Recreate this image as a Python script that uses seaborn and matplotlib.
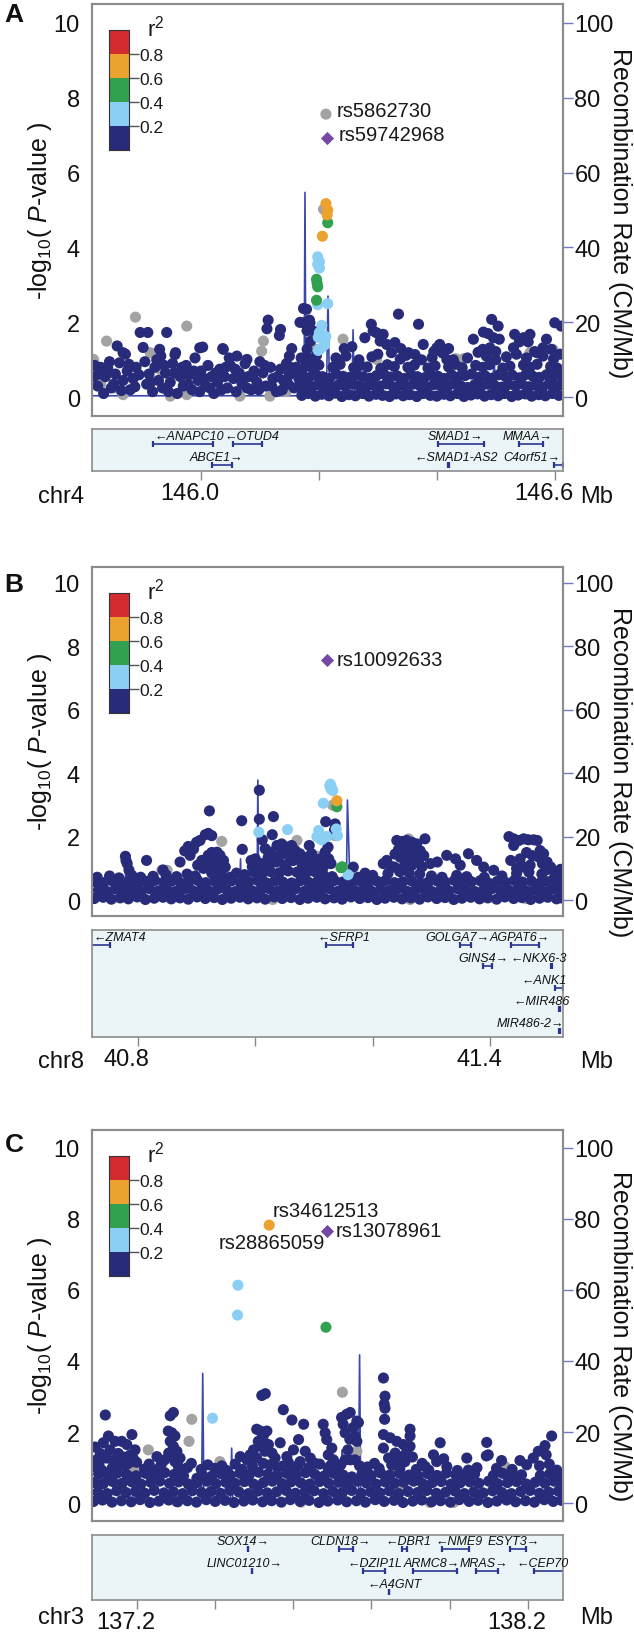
import numpy as np
import pandas as pd
import matplotlib
matplotlib.use("Agg")
import matplotlib.pyplot as plt
from matplotlib.colors import ListedColormap
from matplotlib.transforms import ScaledTranslation
import seaborn as sns

# --- style ---
sns.set_style("white")
plt.rcParams["font.family"] = ["Liberation Sans", "DejaVu Sans"]
plt.rcParams["mathtext.fontset"] = "custom"
plt.rcParams["mathtext.rm"] = "Liberation Sans"
plt.rcParams["mathtext.it"] = "Liberation Sans:italic"
plt.rcParams["mathtext.bf"] = "Liberation Sans:bold"

# --- r2 colour classes ---
ld_colors = {"gray": "#a3a3a3", "0.0-0.2": "#272b79", "0.2-0.4": "#8ccff5",
             "0.4-0.6": "#31a150", "0.6-0.8": "#eca22f", "0.8-1.0": "#d42b30"}
r2_bar_colors = ["#272b79", "#8ccff5", "#31a150", "#eca22f", "#d42b30"]
r2_bar_codes = [4, 3, 2, 1, 0]
r2_bar_labels = ["0.8", "0.6", "0.4", "0.2"]

# =====================  Panel A : chr4  =====================
A_chrom = "chr4"
A_ticks = [146.0, 146.2, 146.4, 146.6]
A_ticklabels = ["146.0", "", "", "146.6"]
A_gray = [(146.212, 7.56), (146.208, 5.02), (145.889, 2.14), (145.840, 1.50), (145.976, 1.90), (146.106, 1.50),
          (146.103, 1.23), (146.241, 1.55), (146.445, 1.03), (146.432, 1.03), (145.818, 1.01), (145.854, .25),
          (145.868, .07), (145.948, .03), (145.976, .07), (146.066, .03), (146.117, .03), (146.145, .16),
          (146.196, .92), (146.196, 1.28), (146.298, 1.01), (146.417, 1.28), (146.558, 1.19), (146.597, 1.28),
          (145.931, .74), (145.914, 1.19), (145.830, .35), (145.860, .40), (146.230, .90)]
A_navy = [
    # left, looser part
    (145.820, .85), (145.830, .80), (145.842, .78), (145.838, .55), (145.825, .30), (145.835, .10), (145.848, .25),
    (145.855, .62), (145.858, 1.37), (145.862, .92), (145.868, .45), (145.872, 1.15), (145.875, .70), (145.880, .20),
    (145.885, .50), (145.890, .80), (145.897, 1.73), (145.902, 1.33), (145.905, .95), (145.908, .35), (145.910, 1.73),
    (145.912, .62), (145.918, .15), (145.922, .80), (145.928, .45), (145.932, 1.10), (145.935, .25), (145.942, 1.73),
    (145.940, .65), (145.948, .40), (145.952, .90), (145.957, 1.19), (145.960, .10), (145.965, .55), (145.970, .30),
    (145.975, .85), (145.980, .60), (145.985, .20), (145.990, 1.05), (145.995, .45), (146.000, .70), (146.003, 1.34),
    (146.008, .30), (146.012, .85), (146.018, .55), (146.022, .10), (146.028, .40), (146.032, .75), (146.037, 1.30),
    (146.040, .55), (146.045, .25), (146.050, .85), (146.055, .50), (146.060, .15), (146.065, .65), (146.070, .35),
    (146.075, .90), (146.080, .55), (146.085, .20), (146.090, .70), (146.095, .40), (146.100, .95), (146.105, .65),
    (146.110, .30), (146.114, 2.06), (146.112, 1.83), (146.118, .80), (146.122, .50), (146.128, .15), (146.133, 1.65),
    (146.135, .75), (146.140, .45), (146.145, .90), (146.150, .60), (146.154, 1.30), (146.158, .25), (146.162, .80),
    (146.166, .50), (146.170, 1.05), (145.818, .55), (145.828, .62), (145.845, .95), (145.852, .35), (145.865, .18),
    (145.878, .88), (145.888, .28), (145.895, .60), (145.915, .40), (145.925, 1.00), (145.938, .85), (145.945, .15),
    (145.955, .65), (145.968, .80), (145.978, .35), (145.988, .70), (145.998, .15), (146.005, .50), (146.015, .25),
    (146.025, .65), (146.035, .20), (146.042, .80), (146.048, 1.05), (146.058, .75), (146.068, .45), (146.078, .25),
    (146.088, .55), (146.098, .20), (146.108, .85), (146.120, .30), (146.130, .55), (146.138, .20), (146.148, .35),
    (146.156, .70), (146.168, .30), (145.868, 1.19), (145.930, 1.28), (145.956, 1.14), (145.998, 1.32),
    (146.038, 1.28), (146.061, 1.10), (146.078, 1.01), (146.135, 1.81), (146.150, 1.10), (146.152, .80),
    # right, dense part
    (146.171, .05), (146.182, .10), (146.194, .03), (146.205, .08), (146.217, .04), (146.228, .11), (146.239, .02),
    (146.251, .07), (146.262, .04), (146.274, .10), (146.285, .03), (146.297, .08), (146.308, .05), (146.320, .02),
    (146.331, .09), (146.343, .04), (146.354, .07), (146.366, .02), (146.377, .10), (146.389, .05), (146.400, .03),
    (146.412, .08), (146.423, .04), (146.435, .10), (146.446, .02), (146.458, .06), (146.469, .09), (146.481, .03),
    (146.492, .07), (146.504, .04), (146.515, .10), (146.527, .02), (146.538, .06), (146.550, .09), (146.561, .03),
    (146.573, .07), (146.584, .04), (146.596, .10), (146.607, .05),
    (146.176, .32), (146.188, .28), (146.199, .35), (146.211, .30), (146.222, .26), (146.234, .34), (146.245, .29),
    (146.257, .36), (146.268, .31), (146.280, .27), (146.291, .33), (146.303, .30), (146.314, .36), (146.326, .28),
    (146.337, .32), (146.349, .26), (146.360, .35), (146.372, .30), (146.383, .27), (146.395, .34), (146.406, .31),
    (146.418, .28), (146.429, .36), (146.441, .30), (146.452, .26), (146.464, .33), (146.475, .29), (146.487, .35),
    (146.498, .31), (146.510, .27), (146.521, .34), (146.533, .30), (146.544, .36), (146.556, .28), (146.567, .32),
    (146.579, .27), (146.590, .35), (146.602, .30), (146.611, .33),
    (146.172, .58), (146.183, .52), (146.195, .60), (146.206, .55), (146.218, .50), (146.229, .62), (146.241, .56),
    (146.252, .53), (146.264, .60), (146.275, .55), (146.287, .51), (146.298, .58), (146.310, .62), (146.321, .54),
    (146.333, .57), (146.344, .50), (146.356, .61), (146.367, .55), (146.379, .52), (146.390, .59), (146.402, .56),
    (146.413, .50), (146.425, .60), (146.436, .54), (146.448, .58), (146.459, .62), (146.471, .53), (146.482, .57),
    (146.494, .51), (146.505, .60), (146.517, .55), (146.528, .59), (146.540, .52), (146.551, .61), (146.563, .56),
    (146.574, .53), (146.586, .60), (146.597, .55), (146.608, .58),
    (146.177, .82), (146.189, .78), (146.200, .86), (146.224, .80), (146.236, .88), (146.259, .79), (146.270, .85),
    (146.282, .81), (146.305, .77), (146.316, .87), (146.328, .82), (146.351, .80), (146.362, .86), (146.385, .78),
    (146.397, .84), (146.420, .81), (146.431, .88), (146.443, .79), (146.466, .85), (146.478, .80), (146.489, .87),
    (146.512, .78), (146.524, .83), (146.547, .86), (146.558, .80), (146.570, .88), (146.593, .82), (146.604, .78),
    (146.186, 1.02), (146.196, 1.12), (146.229, 1.05), (146.246, 1.10), (146.268, 1.00), (146.290, 1.08),
    (146.300, 1.15), (146.338, 1.02), (146.348, 1.12), (146.374, 1.00), (146.392, 1.06), (146.410, 1.18),
    (146.428, 1.00), (146.452, 1.05), (146.470, 1.20), (146.484, 1.10), (146.500, 1.00), (146.518, 1.08),
    (146.535, 1.15), (146.552, 1.05), (146.566, 1.22), (146.580, 1.10), (146.598, 1.02), (146.609, 1.15),
    # raised dots
    (146.174, 2.37), (146.179, 2.35), (146.174, 1.99), (146.185, 1.99), (146.182, 1.81), (146.190, 1.77),
    (146.186, 1.50), (146.180, 1.28), (146.178, 1.06), (146.168, 2.00), (146.184, 2.06), (146.180, 1.78),
    (146.243, 1.30), (146.256, 1.35), (146.278, 1.59), (146.289, 1.95), (146.292, 1.77), (146.298, 1.72),
    (146.309, 1.68), (146.304, 1.50), (146.315, 1.41), (146.329, 1.46), (146.323, 1.19), (146.335, 2.22),
    (146.369, 1.95), (146.377, 1.41), (146.363, 1.14), (146.400, 1.32), (146.405, 1.41), (146.412, 1.26),
    (146.417, 1.01), (146.462, 1.55), (146.479, 1.74), (146.487, 1.70), (146.496, 1.59), (146.493, 2.08),
    (146.504, 1.90), (146.506, 1.55), (146.478, 1.28), (146.490, 1.32), (146.500, 1.22), (146.532, 1.68),
    (146.547, 1.59), (146.558, 1.68), (146.555, 1.48), (146.540, 1.48), (146.530, 1.32), (146.586, 1.55),
    (146.600, 1.99), (146.611, 1.90), (146.594, 1.28), (146.580, 1.32), (146.570, 1.19), (146.420, 1.30),
    (146.395, 1.22), (146.352, 1.19), (146.339, 1.30)]
A_lblue = [(146.198, 3.75), (146.201, 3.62), (146.198, 3.55), (146.201, 3.45), (146.215, 2.50), (146.198, 2.47),
           (146.205, 1.92), (146.201, 1.73), (146.207, 1.65), (146.199, 1.60), (146.212, 1.62), (146.203, 1.30),
           (146.199, 1.25), (146.210, 1.40)]
A_green = [(146.215, 4.66), (146.196, 3.15), (146.198, 2.95), (146.196, 2.59), (146.197, 3.05)]
A_orange = [(146.212, 5.17), (146.215, 5.00), (146.214, 4.87), (146.206, 4.30)]
A_lead = [(146.214, 6.93)]
A_named = [("rs5862730", 146.212, 7.56), ("rs59742968", 146.214, 6.93)]
A_recomb = [(145.816, 0.4), (146.170, 0.4), (146.175, 3.0), (146.1765, 54.7), (146.178, 2.0), (146.213, 2.0),
            (146.2155, 27.0), (146.218, 1.5), (146.2565, 1.5), (146.258, 18.0), (146.260, 1.5), (146.495, 1.5),
            (146.497, 13.7), (146.499, 1.5), (146.614, 1.0)]
A_genes = [("ANAPC10", 145.918, 146.021, 0, "-", 145.980), ("OTUD4", 146.054, 146.103, 0, "-", 146.087),
           ("ABCE1", 146.018, 146.053, 1, "+", 146.027), ("SMAD1", 146.402, 146.480, 0, "+", 146.432),
           ("SMAD1-AS2", 146.419, 146.421, 1, "-", 146.433), ("MMAA", 146.539, 146.580, 0, "+", 146.554),
           ("C4orf51", 146.598, 146.614, 1, "+", 146.562)]

# =====================  Panel B : chr8  =====================
B_chrom = "chr8"
B_ticks = [40.8, 41.0, 41.2, 41.4]
B_ticklabels = ["40.8", "", "", "41.4"]
B_gray = [(40.841, .94), (40.850, .94), (40.943, 1.85), (41.071, 1.88), (41.105, 1.38), (41.261, 1.93),
          (41.132, 2.99), (41.136, 2.03), (41.196, .63), (41.460, .05), (41.264, .02), (41.050, .15), (40.980, .80),
          (41.345, .70), (41.030, .02)]
B_navy = [
    (40.726, .05), (40.741, .09), (40.755, .03), (40.770, .07), (40.784, .04), (40.799, .10), (40.813, .02),
    (40.828, .06), (40.843, .09), (40.857, .04), (40.872, .07), (40.886, .03), (40.901, .10), (40.915, .05),
    (40.930, .08), (40.944, .02), (40.959, .06), (40.974, .09), (40.988, .04), (41.003, .07), (41.017, .03),
    (41.032, .10), (41.046, .05), (41.061, .08), (41.076, .02), (41.090, .06), (41.105, .09), (41.119, .04),
    (41.134, .07), (41.148, .03), (41.163, .10), (41.178, .05), (41.192, .08), (41.207, .02), (41.221, .06),
    (41.236, .09), (41.250, .04), (41.265, .07), (41.280, .03), (41.294, .10), (41.309, .05), (41.323, .08),
    (41.338, .02), (41.352, .06), (41.367, .09), (41.382, .04), (41.396, .07), (41.411, .03), (41.425, .10),
    (41.440, .05), (41.454, .08), (41.469, .02), (41.484, .06), (41.498, .09), (41.513, .04), (41.521, .07),
    (40.733, .31), (40.748, .27), (40.762, .35), (40.777, .30), (40.791, .33), (40.806, .28), (40.820, .36),
    (40.835, .29), (40.850, .32), (40.864, .27), (40.879, .35), (40.893, .30), (40.908, .33), (40.922, .28),
    (40.937, .36), (40.952, .31), (40.966, .27), (40.981, .34), (40.995, .29), (41.010, .32), (41.024, .36),
    (41.039, .28), (41.054, .31), (41.068, .35), (41.083, .27), (41.097, .33), (41.112, .30), (41.126, .36),
    (41.141, .28), (41.156, .32), (41.170, .29), (41.185, .35), (41.199, .27), (41.214, .33), (41.228, .30),
    (41.243, .36), (41.258, .28), (41.272, .31), (41.287, .34), (41.301, .27), (41.316, .32), (41.330, .29),
    (41.345, .35), (41.360, .30), (41.374, .27), (41.389, .33), (41.403, .36), (41.418, .28), (41.432, .31),
    (41.447, .34), (41.462, .29), (41.476, .32), (41.491, .27), (41.505, .35), (41.518, .30),
    (40.727, .58), (40.742, .55), (40.756, .61), (40.771, .56), (40.785, .60), (40.800, .54), (40.814, .59),
    (40.829, .62), (40.844, .56), (40.858, .60), (40.873, .54), (40.887, .58), (40.902, .62), (40.916, .55),
    (40.931, .59), (40.945, .56), (40.960, .61), (40.975, .54), (40.989, .58), (41.004, .62), (41.018, .55),
    (41.033, .60), (41.047, .57), (41.062, .54), (41.077, .61), (41.091, .56), (41.106, .59), (41.120, .55),
    (41.135, .62), (41.149, .57), (41.164, .54), (41.179, .60), (41.193, .56), (41.208, .59), (41.222, .62),
    (41.237, .55), (41.251, .58), (41.266, .61), (41.281, .54), (41.295, .57), (41.310, .60), (41.324, .56),
    (41.339, .62), (41.353, .55), (41.368, .58), (41.383, .61), (41.397, .54), (41.412, .59), (41.426, .56),
    (41.441, .62), (41.455, .57), (41.470, .60), (41.485, .54), (41.499, .58), (41.514, .61), (41.521, .56),
    (40.731, .72), (40.752, .76), (40.768, .70), (40.790, .78), (40.805, .72), (40.826, .75), (40.848, .80),
    (40.866, .74), (40.884, .82), (40.898, .76), (40.926, .85), (40.940, .78), (40.957, .72), (40.968, .85),
    (40.982, .80), (40.998, .88), (41.012, .84), (41.026, .90), (41.041, .86), (41.056, .92), (41.071, .88),
    (41.086, .84), (41.101, .90), (41.116, .80), (41.131, .74), (41.175, .72), (41.200, .78), (41.226, .84),
    (41.246, .90), (41.262, .86), (41.280, .82), (41.300, .76), (41.318, .72), (41.343, .78), (41.360, .74),
    (41.390, .72), (41.420, .76), (41.445, .84), (41.466, .88), (41.488, .82), (41.510, .76),
    (40.995, 1.05), (41.010, 1.15), (41.020, 1.05), (41.035, 1.20), (41.050, 1.10), (41.065, 1.25), (41.080, 1.05),
    (41.095, 1.12), (41.040, 1.40), (41.058, 1.45), (41.000, 1.30), (41.088, 1.35), (41.110, 1.05),
    (40.779, 1.38), (40.782, 1.15), (40.785, .95), (40.780, 1.25), (40.815, 1.25), (40.843, .95), (40.872, 1.20),
    (40.889, 1.41), (40.886, 1.69), (40.900, 1.82), (40.906, 1.88), (40.915, 2.06), (40.920, 2.10), (40.926, 2.03),
    (40.909, 1.25), (40.895, 1.61), (40.880, 1.55), (40.922, 2.81), (40.920, 1.41), (40.928, 1.30), (40.935, 1.51),
    (40.940, 1.41), (40.946, 1.25), (40.949, 1.04), (40.943, .94), (40.923, 1.15), (40.931, 1.04), (40.937, 1.20),
    (40.926, 1.50), (40.912, 1.00), (40.902, 1.10), (40.977, 2.50), (40.978, 1.60), (40.993, 1.25), (41.007, 3.46),
    (41.007, 2.55), (41.012, 1.90), (41.031, 2.63), (41.029, 2.06), (41.017, 1.62), (41.025, 1.51), (41.037, 1.72),
    (41.045, 1.77), (41.054, 1.67), (41.062, 1.72), (41.068, 1.56), (41.076, 1.46), (41.048, 1.46), (41.040, 1.35),
    (41.028, 1.20), (41.060, 1.25), (41.071, 1.30), (41.022, 1.35), (41.092, 1.72), (41.082, 1.30), (41.096, 1.46),
    (41.111, 1.30), (41.116, 1.04), (41.102, 1.15), (41.120, 2.47), (41.136, 2.40), (41.135, 2.21), (41.124, 1.67),
    (41.125, 1.30), (41.129, 1.15), (41.119, 1.51), (41.167, 1.04), (41.187, .85), (41.224, 1.25), (41.237, 1.04),
    (41.218, 1.15), (41.241, 1.88), (41.250, 1.85), (41.258, 1.88), (41.267, 1.82), (41.275, 1.77), (41.289, 1.93),
    (41.244, 1.60), (41.255, 1.55), (41.264, 1.60), (41.272, 1.50), (41.281, 1.55), (41.247, 1.35), (41.261, 1.30),
    (41.278, 1.25), (41.287, 1.40), (41.238, 1.45), (41.233, 1.05), (41.253, 1.05), (41.267, 1.10), (41.284, 1.05),
    (41.298, 1.15), (41.326, 1.41), (41.341, 1.30), (41.363, 1.46), (41.377, 1.25), (41.310, 1.20), (41.349, 1.10),
    (41.389, 1.04), (41.406, .94), (41.432, 2.00), (41.440, 1.93), (41.449, 1.88), (41.457, 1.93), (41.465, 1.90),
    (41.474, 1.90), (41.480, 1.88), (41.440, 1.72), (41.451, 1.30), (41.485, 1.56), (41.491, 1.46), (41.497, 1.20),
    (41.503, 1.04), (41.483, 1.35), (41.489, 1.15), (41.495, .95), (41.457, 1.04), (41.468, 1.10), (41.445, 1.00),
    (41.511, .90), (41.515, .85), (41.520, .97), (41.462, 1.50), (41.472, 1.40), (41.435, 1.25)]
B_lblue = [(41.128, 3.65), (41.130, 3.54), (41.132, 3.45), (41.127, 3.60), (41.129, 3.50), (41.116, 3.05),
           (41.006, 2.14), (41.055, 2.22), (41.108, 2.19), (41.110, 1.95), (41.115, 1.95), (41.122, 2.00),
           (41.105, 2.00), (41.138, 2.24), (41.140, 2.03), (41.158, .80), (41.113, 1.90), (41.118, 1.98)]
B_green = [(41.139, 2.94), (41.146, 1.02), (41.148, 1.05)]
B_orange = [(41.139, 3.13)]
B_lead = [(41.123, 7.57)]
B_named = [("rs10092633", 41.123, 7.57)]
B_recomb = [(40.7228, 0.5), (40.778, 0.5), (40.780, 13.8), (40.782, 0.5), (40.973, 0.5), (40.975, 13.0),
            (40.977, 0.5), (41.003, 0.5), (41.0045, 37.8), (41.006, 0.5), (41.155, 0.5), (41.157, 31.5),
            (41.162, 0.5), (41.524, 0.5)]
B_genes = [("ZMAT4", 40.700, 40.753, 0, "-", 40.770), ("SFRP1", 41.121, 41.166, 0, "-", 41.151),
           ("GOLGA7", 41.349, 41.368, 0, "+", 41.345), ("AGPAT6", 41.436, 41.483, 0, "+", 41.450),
           ("GINS4", 41.387, 41.403, 1, "+", 41.388), ("NKX6-3", 41.503, 41.505, 1, "-", 41.483),
           ("ANK1", 41.511, 41.524, 2, "-", 41.492), ("MIR486", 41.517, 41.519, 3, "-", 41.488),
           ("MIR486-2", 41.517, 41.519, 4, "+", 41.469)]

# =====================  Panel C : chr3  =====================
C_chrom = "chr3"
C_ticks = [137.2, 137.4, 137.6, 137.8, 138.0, 138.2]
C_ticklabels = ["137.2", "", "", "", "", "138.2"]
C_gray = [(137.341, 2.36), (137.334, 1.74), (137.230, 1.50), (137.413, 1.17), (137.726, 3.12), (137.763, 1.46),
          (138.142, 1.03), (137.192, .90), (137.470, .60), (137.950, .02), (137.860, .30), (137.100, .55),
          (137.300, .05), (137.620, .03), (138.010, .02), (137.200, 1.12), (137.883, .40), (137.925, .20)]
C_navy = [
    (137.090, .05), (137.113, .09), (137.137, .03), (137.161, .07), (137.186, .04), (137.209, .10), (137.234, .02),
    (137.257, .06), (137.282, .09), (137.305, .04), (137.330, .07), (137.353, .03), (137.378, .10), (137.401, .05),
    (137.426, .08), (137.449, .02), (137.474, .06), (137.497, .09), (137.522, .04), (137.545, .07), (137.570, .03),
    (137.593, .10), (137.618, .05), (137.641, .08), (137.666, .02), (137.689, .06), (137.714, .09), (137.737, .04),
    (137.762, .07), (137.785, .03), (137.810, .10), (137.833, .05), (137.858, .08), (137.881, .02), (137.906, .06),
    (137.929, .09), (137.954, .04), (137.977, .07), (138.002, .03), (138.025, .10), (138.050, .05), (138.073, .08),
    (138.098, .02), (138.121, .06), (138.146, .09), (138.169, .04), (138.194, .07), (138.217, .03), (138.242, .10),
    (138.265, .05), (138.286, .08),
    (137.101, .31), (137.125, .27), (137.149, .35), (137.173, .30), (137.197, .33), (137.221, .28), (137.245, .36),
    (137.270, .29), (137.294, .32), (137.318, .27), (137.342, .35), (137.366, .30), (137.390, .33), (137.414, .28),
    (137.438, .36), (137.462, .31), (137.486, .27), (137.510, .34), (137.534, .29), (137.558, .32), (137.582, .36),
    (137.606, .28), (137.630, .31), (137.654, .35), (137.678, .27), (137.702, .33), (137.726, .30), (137.750, .36),
    (137.774, .28), (137.798, .32), (137.822, .29), (137.846, .35), (137.870, .27), (137.894, .33), (137.918, .30),
    (137.942, .36), (137.966, .28), (137.990, .31), (138.014, .34), (138.038, .27), (138.062, .32), (138.086, .29),
    (138.110, .35), (138.134, .30), (138.158, .27), (138.182, .33), (138.206, .36), (138.230, .28), (138.254, .31),
    (138.278, .34),
    (137.092, .58), (137.115, .55), (137.139, .61), (137.163, .56), (137.188, .60), (137.211, .54), (137.236, .59),
    (137.259, .62), (137.284, .56), (137.307, .60), (137.332, .54), (137.355, .58), (137.380, .62), (137.403, .55),
    (137.428, .59), (137.451, .56), (137.476, .61), (137.499, .54), (137.524, .58), (137.547, .62), (137.572, .55),
    (137.595, .60), (137.620, .57), (137.643, .54), (137.668, .61), (137.691, .56), (137.716, .59), (137.739, .55),
    (137.764, .62), (137.787, .57), (137.812, .54), (137.835, .60), (137.860, .56), (137.883, .59), (137.908, .62),
    (137.931, .55), (137.956, .58), (137.979, .61), (138.004, .54), (138.027, .57), (138.052, .60), (138.075, .56),
    (138.100, .62), (138.123, .55), (138.148, .58), (138.171, .61), (138.196, .54), (138.219, .59), (138.244, .56),
    (138.267, .62), (138.287, .57),
    (137.103, .82), (137.127, .78), (137.151, .85), (137.175, .80), (137.199, .77), (137.223, .84), (137.247, .79),
    (137.272, .86), (137.296, .81), (137.320, .77), (137.368, .80), (137.392, .76), (137.416, .83), (137.440, .78),
    (137.464, .85), (137.488, .80), (137.512, .87), (137.536, .82), (137.560, .78), (137.584, .84), (137.608, .80),
    (137.632, .86), (137.656, .81), (137.680, .77), (137.704, .84), (137.728, .79), (137.776, .82), (137.800, .78),
    (137.824, .85), (137.848, .80), (137.872, .84), (137.896, .79), (137.920, .76), (137.944, .83), (137.968, .78),
    (137.992, .85), (138.016, .80), (138.040, .77), (138.064, .82), (138.112, .78), (138.136, .84), (138.160, .76),
    (138.184, .80), (138.232, .78), (138.256, .83), (138.280, .77),
    (137.094, 1.58), (137.115, 1.70), (137.128, 1.89), (137.145, 1.74), (137.162, 1.74), (137.175, 1.65),
    (137.188, 1.93), (137.196, 1.50), (137.120, 2.48), (137.107, 1.40), (137.132, 1.50), (137.153, 1.40),
    (137.166, 1.30), (137.183, 1.35), (137.098, 1.22), (137.124, 1.27), (137.141, 1.17), (137.158, 1.08),
    (137.179, 1.12), (137.090, 1.03), (137.111, .93), (137.137, .98), (137.200, 1.15), (137.252, 1.31),
    (137.264, 1.12), (137.243, .93), (137.286, 2.46), (137.294, 2.55), (137.281, 2.03), (137.290, 1.98),
    (137.298, 1.89), (137.286, 1.74), (137.294, 1.60), (137.303, 1.46), (137.290, 1.31), (137.298, 1.17),
    (137.307, 1.03), (137.282, 1.41), (137.311, 1.27), (137.316, .93), (137.354, .70), (137.465, 1.31),
    (137.507, 2.08), (137.516, 2.03), (137.524, 1.89), (137.533, 2.03), (137.511, 1.74), (137.520, 1.60),
    (137.528, 1.46), (137.537, 1.65), (137.499, 1.50), (137.490, 1.36), (137.482, 1.22), (137.546, 1.41),
    (137.554, 1.27), (137.507, 1.27), (137.524, 1.12), (137.541, 1.08), (137.520, 3.03), (137.529, 3.08),
    (137.575, 2.63), (137.597, 2.34), (137.627, 2.22), (137.567, 1.70), (137.601, 1.50), (137.614, 1.79),
    (137.631, 1.46), (137.644, 1.27), (137.584, 1.31), (137.618, 1.17), (137.656, 1.12), (137.575, 1.05),
    (137.640, 1.00), (137.677, 2.22), (137.682, 1.98), (137.686, 1.79), (137.699, 1.55), (137.690, 1.36),
    (137.703, 1.22), (137.695, 1.05), (137.724, 2.41), (137.737, 2.50), (137.746, 2.55), (137.763, 2.31),
    (137.767, 2.27), (137.758, 1.89), (137.763, 1.74), (137.728, 2.22), (137.754, 2.13), (137.733, 1.98),
    (137.745, 1.80), (137.733, 1.22), (137.746, 1.22), (137.758, 1.22), (137.750, .74), (137.740, 1.50),
    (137.770, 1.05), (137.831, 3.52), (137.835, 3.01), (137.833, 2.79), (137.835, 2.67), (137.834, 2.36),
    (137.831, 1.93), (137.831, 1.55), (137.848, 1.84), (137.865, 1.74), (137.882, 1.65), (137.899, 2.08),
    (137.899, 1.89), (137.891, 1.50), (137.844, 1.27), (137.861, 1.41), (137.878, 1.31), (137.899, 1.60),
    (137.852, 1.08), (137.869, 1.03), (137.886, 1.17), (137.905, 1.30), (137.873, .98), (137.959, 1.36),
    (137.976, 1.70), (137.938, 1.03), (137.947, .93), (137.993, 1.03), (137.967, 1.17), (137.985, 1.25),
    (138.044, 1.27), (138.048, .93), (138.095, 1.71), (138.099, 1.36), (138.094, 1.33), (138.133, 1.20),
    (138.180, 1.20), (138.197, 1.08), (138.214, 1.27), (138.227, 1.46), (138.244, 1.62), (138.247, 1.36),
    (138.261, 1.89), (138.274, .93), (138.230, 1.05), (138.255, 1.10), (138.160, .95), (138.120, .98),
    (138.070, 1.00), (138.020, .92), (137.915, .95), (137.820, .98), (137.790, 1.02), (137.710, .95),
    (137.690, .98), (137.600, .95), (137.560, 1.00), (137.470, .95), (137.430, .92), (137.400, .98),
    (137.365, .95), (137.330, 1.00), (137.260, 1.02), (137.220, .96),
    (137.104, 1.12), (137.148, 1.25), (137.170, 1.05), (137.192, 1.25), (137.232, 1.10), (137.272, 1.22),
    (137.340, 1.12), (137.382, 1.08), (137.418, 1.05), (137.452, 1.10), (137.496, 1.05), (137.588, 1.15),
    (137.612, 1.05), (137.668, 1.10), (137.722, 1.08), (137.808, 1.12), (137.858, 1.20), (137.930, 1.12)]
C_lblue = [(137.459, 6.13), (137.458, 5.29), (137.394, 2.39)]
C_green = [(137.684, 4.95)]
C_orange = [(137.539, 7.82)]
C_lead = [(137.687, 7.66)]
C_named = [("rs34612513", 137.539, 7.82), ("rs28865059", 137.539, 7.82), ("rs13078961", 137.687, 7.66)]
C_recomb = [(137.087, 0.5), (137.366, 0.5), (137.369, 36.5), (137.372, 0.5), (137.440, 0.5), (137.443, 15.5),
            (137.446, 0.5), (137.724, 0.5), (137.726, 15.0), (137.728, 0.5), (137.767, 0.5), (137.770, 41.7),
            (137.773, 0.5), (138.290, 0.5)]
C_genes = [("SOX14", 137.484, 137.486, 0, "+", 137.473), ("LINC01210", 137.494, 137.496, 1, "+", 137.477),
           ("CLDN18", 137.718, 137.752, 0, "+", 137.721), ("DZIP1L", 137.780, 137.834, 1, "-", 137.810),
           ("A4GNT", 137.844, 137.846, 2, "-", 137.860), ("DBR1", 137.878, 137.891, 0, "-", 137.896),
           ("ARMC8", 137.906, 138.019, 1, "+", 137.955), ("NME9", 137.980, 138.050, 0, "-", 138.024),
           ("MRAS", 138.067, 138.124, 1, "+", 138.088), ("ESYT3", 138.155, 138.196, 0, "+", 138.163),
           ("CEP70", 138.215, 138.300, 1, "-", 138.237)]

# --- layout (pixels in a 634 x 1633 canvas) ---
W, H = 634, 1633
layout = {
    "A": dict(main=(92.4, 5, 563, 417), gene=(92.4, 430, 563, 472), lab_y=497, let_y=15,
              xlim=(145.816, 146.614), rlab=0.495),
    "B": dict(main=(92.4, 567.7, 563, 917), gene=(92.4, 931, 563, 1038), lab_y=1062, let_y=585,
              xlim=(40.7228, 41.524), rlab=0.415),
    "C": dict(main=(92.4, 1130.8, 563, 1522), gene=(92.4, 1535.7, 563, 1600.6), lab_y=1618, let_y=1145,
              xlim=(137.087, 138.290), rlab=0.475),
}
label_offsets = {"rs5862730": (8, 2.5, "left"), "rs59742968": (8, 2.5, "left"),
                 "rs10092633": (6.5, 0, "left"), "rs34612513": (2.7, 10.6, "left"),
                 "rs28865059": (2, -12.8, "center"), "rs13078961": (6.3, 0, "left")}

panels = {
    "A": (A_chrom, A_ticks, A_ticklabels, A_gray, A_navy, A_lblue, A_green, A_orange, A_lead, A_named, A_recomb, A_genes),
    "B": (B_chrom, B_ticks, B_ticklabels, B_gray, B_navy, B_lblue, B_green, B_orange, B_lead, B_named, B_recomb, B_genes),
    "C": (C_chrom, C_ticks, C_ticklabels, C_gray, C_navy, C_lblue, C_green, C_orange, C_lead, C_named, C_recomb, C_genes),
}

def rect(l, t, r, b):
    return [l / W, 1 - b / H, (r - l) / W, (b - t) / H]

frame_col = "#8c8c8c"
gene_col = "#2b3590"
recomb_col = "#3b47aa"
TICK_FS = 17

fig = plt.figure(figsize=(W / 100, H / 100), dpi=100)
shift_left = ScaledTranslation(-11 / 100, 0, fig.dpi_scale_trans)

for key, (chrom, ticks, ticklabels, gray, navy, lblue, green, orange, lead, named, recomb, genes) in panels.items():
    lay = layout[key]
    ax = fig.add_axes(rect(*lay["main"]))
    ax_r = ax.twinx()
    ax.set_zorder(ax_r.get_zorder() + 1)
    ax.patch.set_visible(False)
    ax_r.set_facecolor("#fdfbfb")

    # association points
    rows = []
    for cat, pts in [("gray", gray), ("0.0-0.2", navy), ("0.2-0.4", lblue), ("0.4-0.6", green), ("0.6-0.8", orange)]:
        rows += [(x, y, cat) for x, y in pts]
    df = pd.DataFrame(rows, columns=["pos", "logp", "ld"])
    sns.scatterplot(data=df, x="pos", y="logp", hue="ld", palette=ld_colors, s=64, linewidth=0,
                    legend=False, ax=ax)
    lead_df = pd.DataFrame(lead, columns=["pos", "logp"])
    sns.scatterplot(data=lead_df, x="pos", y="logp", marker="D", color="#7548a6", s=45, linewidth=0, ax=ax)

    for name, x, y in named:
        dx, dy, ha = label_offsets[name]
        ax.annotate(name, xy=(x, y), xytext=(dx, dy), textcoords="offset points", ha=ha, va="center",
                    fontsize=14.5, color="#1a1a1a")

    # recombination rate
    rec = pd.DataFrame(recomb, columns=["pos", "rate"])
    sns.lineplot(data=rec, x="pos", y="rate", ax=ax_r, color=recomb_col, lw=1.2, estimator=None, sort=False)

    ax.set_xlim(*lay["xlim"])
    ax_r.set_xlim(*lay["xlim"])
    ax.set_ylim(-0.5, 10.5)
    ax_r.set_ylim(-5, 105)
    ax.set_xticks([])
    ax.set_xlabel("")
    ax_r.set_xlabel("")
    ax.set_yticks([0, 2, 4, 6, 8, 10])
    ax.tick_params(axis="y", left=False, length=0, pad=9, labelsize=TICK_FS, labelcolor="#111111")
    ax_r.set_yticks([0, 20, 40, 60, 80, 100])
    ax_r.tick_params(axis="y", right=True, length=7.2, width=1, color="#7478c8", pad=1,
                     labelsize=TICK_FS, labelcolor="#111111")
    ax.set_ylabel(r"-log$_{10}$( $P$-value )", fontsize=18, color="#111111")
    ax.yaxis.set_label_coords(-0.1103, 0.5)
    ax.yaxis.label.set_va("center")
    ax_r.set_ylabel("Recombination Rate (CM/Mb)", fontsize=18, rotation=270, color="#111111")
    ax_r.yaxis.set_label_coords(1.121, lay["rlab"])
    ax_r.yaxis.label.set_va("center")
    for a in (ax, ax_r):
        for sp in a.spines.values():
            sp.set_color(frame_col)
            sp.set_linewidth(1.5)

    # r2 colour key
    mt = lay["main"][1]
    cb_ax = fig.add_axes(rect(108.5, mt + 26, 128.5, mt + 146))
    sns.heatmap(pd.DataFrame({"r2": r2_bar_codes}), cmap=ListedColormap(r2_bar_colors), vmin=-0.5, vmax=4.5,
                cbar=False, xticklabels=False, yticklabels=False, ax=cb_ax)
    cb_ax.yaxis.tick_right()
    cb_ax.set_yticks([1, 2, 3, 4])
    cb_ax.set_yticklabels(r2_bar_labels)
    cb_ax.tick_params(axis="y", right=True, left=False, labelright=True, length=7, width=1,
                      color="#555555", pad=0.5, labelsize=12.5, labelcolor="#1a1a1a")
    cb_ax.set_xlabel("")
    cb_ax.set_ylabel("")
    for sp in cb_ax.spines.values():
        sp.set_visible(True)
        sp.set_color("#333333")
        sp.set_linewidth(0.8)
    fig.text(156 / W, 1 - (mt + 32) / H, r"r$^2$", ha="center", va="baseline", fontsize=16, color="#1a1a1a")

    # gene track
    gl, gt, gr, gb = lay["gene"]
    ax_g = fig.add_axes(rect(gl, gt, gr, gb))
    ax_g.set_facecolor("#ebf5f8")
    ax_g.set_xlim(*lay["xlim"])
    ax_g.set_ylim((gb - gt - 14.5) / 21.5, -14.5 / 21.5)
    for name, start, end, row, strand, lab in genes:
        ax_g.plot([start, end], [row, row], color=gene_col, lw=1.2, solid_capstyle="butt")
        ax_g.plot([start, end], [row, row], ls="none", marker="|", ms=5, mew=1.6, color=gene_col)
        txt = "\u2190" + name if strand == "-" else name + "\u2192"
        ax_g.text(lab, row - 0.37, txt, ha="center", va="center", fontsize=9, style="italic", color="#111111")
    ax_g.set_yticks([])
    ax_g.set_xticks(ticks)
    ax_g.set_xticklabels(ticklabels)
    ax_g.tick_params(axis="x", bottom=True, length=6.5, width=1, color="#888888", pad=1.5,
                     labelsize=TICK_FS, labelcolor="#111111")
    for lbl in ax_g.get_xticklabels():
        lbl.set_transform(lbl.get_transform() + shift_left)
    for sp in ax_g.spines.values():
        sp.set_color(frame_col)
        sp.set_linewidth(1.2)

    fig.text(61 / W, 1 - lay["lab_y"] / H, chrom, ha="center", va="center", fontsize=TICK_FS, color="#111111")
    fig.text(597 / W, 1 - lay["lab_y"] / H, "Mb", ha="center", va="center", fontsize=TICK_FS, color="#111111")
    fig.text(14 / W, 1 - lay["let_y"] / H, key, ha="center", va="center", fontsize=19, fontweight="bold",
             color="#111111")

fig.savefig("out.png", dpi=100)
